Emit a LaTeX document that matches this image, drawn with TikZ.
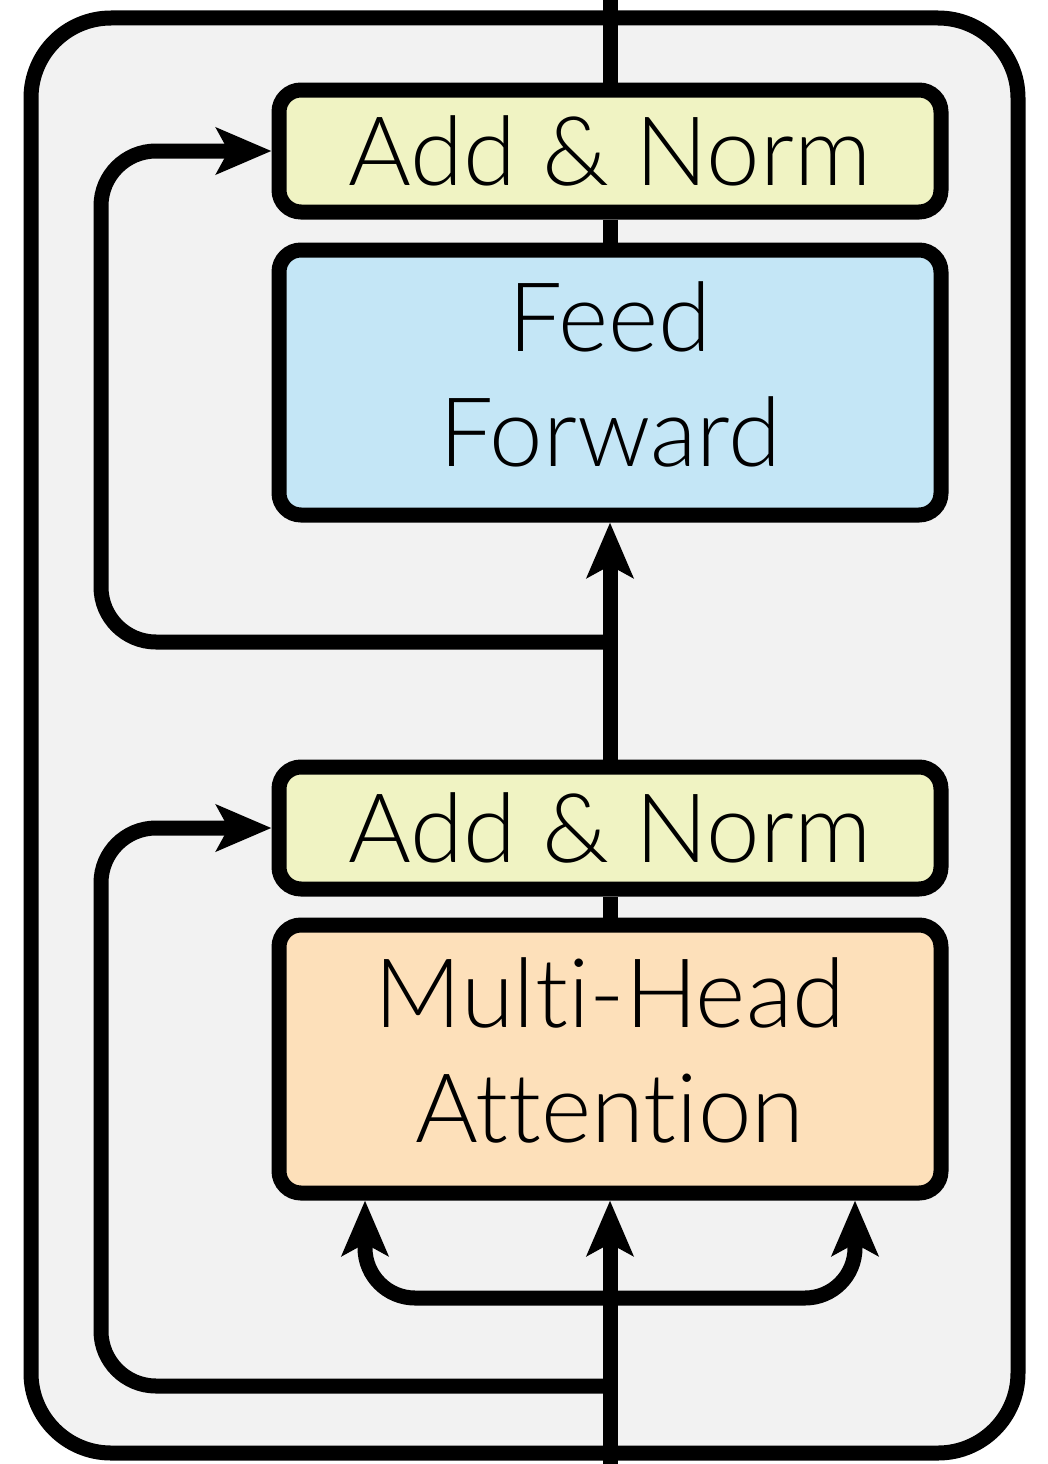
\documentclass[tikz,border=0pt]{standalone}
\usepackage{fontspec}
\setmainfont{Lato}[UprightFont=* Light, Ligatures=NoCommon]
\usetikzlibrary{arrows.meta,calc}
\definecolor{bgc}{HTML}{F2F2F2}
\definecolor{normc}{HTML}{F0F3C3}
\definecolor{ffc}{HTML}{C4E6F6}
\definecolor{mhac}{HTML}{FDE0BA}
\begin{document}
\begin{tikzpicture}[x=1pt,y=-1pt,line width=15pt,
  box/.style={draw=black, rounded corners=22pt, minimum width=662pt, inner sep=0pt,
    font=\fontsize{96}{115}\selectfont, align=center},
  txt/.style={inner sep=0pt, font=\fontsize{96}{115}\selectfont, align=center},
  arr/.style={-{Stealth[length=55pt,width=46pt,inset=12pt]}},
  resid/.style={rounded corners=55pt}]
\useasboundingbox (0,0) rectangle (1048,1464);
% outer frame
\node[draw=black, fill=bgc, rounded corners=80pt, minimum width=987pt, minimum height=1435pt, inner sep=0pt]
  (outer) at (524.5,735.5) {};
% boxes
\node[box, fill=normc, minimum height=122pt] (an2) at (610,151) {Add \& Norm};
\node[box, fill=ffc, minimum height=265pt] (ff) at (610,382.5) {};
\node[txt] (fftext) at ($(ff.center)+(0,-8)$) {Feed\\Forward};
\node[box, fill=normc, minimum height=122pt] (an1) at (610,828) {Add \& Norm};
\node[box, fill=mhac, minimum height=268pt] (mha) at (610,1059) {};
\node[txt] (mhatext) at ($(mha.center)+(0,-9)$) {Multi-Head\\Attention};
% coordinates
\coordinate (top) at (610,0);
\coordinate (bot) at (610,1464);
\coordinate (j1) at (610,642);
\coordinate (j1a) at (101,642);
\coordinate (j1b) at (101,151);
\coordinate (j0) at (610,1386);
\coordinate (j0a) at (101,1386);
\coordinate (j0b) at (101,828);
\coordinate (b0) at (610,1298);
\coordinate (mL) at ($(mha.south)+(-245,0)$);
\coordinate (mR) at ($(mha.south)+(245,0)$);
% connectors
\draw (an2.north) -- (top);
\draw (an2.south) -- (ff.north);
\draw[arr] (an1.north) -- (ff.south);
\draw (an1.south) -- (mha.north);
\draw[arr] (bot) -- (mha.south);
\draw[arr, resid] (j1) -- (j1a) -- (j1b) -- (an2.west);
\draw[arr, resid] (j0) -- (j0a) -- (j0b) -- (an1.west);
\draw[arr, rounded corners=50pt] (b0) -| (mL);
\draw[arr, rounded corners=50pt] (b0) -| (mR);
\end{tikzpicture}
\end{document}
